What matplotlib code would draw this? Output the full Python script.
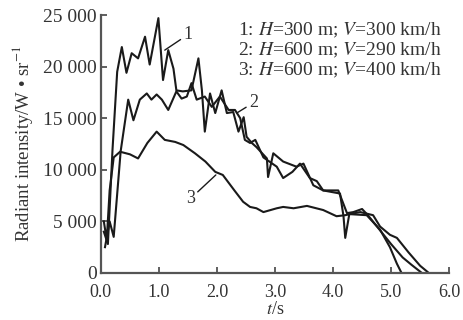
import matplotlib
matplotlib.use("Agg")
import matplotlib.pyplot as plt
from matplotlib.ticker import FuncFormatter

plt.rcParams['font.family'] = ['Liberation Serif', 'DejaVu Serif']
plt.rcParams['mathtext.fontset'] = 'stix'

# curve 1: H=300 m, V=300 km/h
t1 = [0.05, 0.12, 0.2, 0.28, 0.36, 0.44, 0.53, 0.64, 0.76, 0.84, 0.99, 1.07, 1.16, 1.25,
      1.30, 1.41, 1.56, 1.68, 1.74, 1.79, 1.88, 1.97, 2.08, 2.17, 2.28, 2.37, 2.46, 2.51,
      2.60, 2.68, 2.86, 2.88, 2.97, 3.14, 3.37, 3.49, 3.66, 3.83, 4.12, 4.18, 4.21, 4.28,
      4.47, 4.69, 4.81, 4.98, 5.10, 5.3, 5.5, 5.65]
i1 = [4000, 2800, 12000, 19500, 21900, 19400, 21300, 20800, 22900, 20200, 24700, 18700,
      21600, 19800, 17700, 17600, 17700, 20800, 17700, 13700, 17400, 15500, 17700, 15500,
      15600, 13700, 15100, 13200, 12600, 12200, 11100, 9300, 11600, 10800, 10300, 10600,
      8500, 8000, 7700, 5500, 3400, 5700, 5900, 5600, 4500, 3700, 3400, 2000, 700, 0]

# curve 2: H=600 m, V=290 km/h
t2 = [0.07, 0.15, 0.22, 0.34, 0.47, 0.56, 0.67, 0.79, 0.87, 0.96, 1.05, 1.16, 1.30, 1.39,
      1.48, 1.56, 1.65, 1.79, 1.91, 2.05, 2.2, 2.31, 2.40, 2.48, 2.57, 2.66, 2.80, 3.03,
      3.14, 3.30, 3.43, 3.6, 3.72, 3.83, 4.09, 4.24, 4.35, 4.5, 4.6, 4.8, 5.0, 5.2, 5.35, 5.53]
i2 = [2500, 5000, 3500, 11800, 16800, 14800, 16800, 17400, 16800, 17300, 16800, 15800,
      17600, 16900, 17100, 18400, 16800, 17100, 16100, 17100, 15800, 15800, 15000, 12900,
      12600, 12900, 11200, 10300, 9200, 9800, 10600, 9200, 8900, 8000, 8000, 5800, 5900,
      6200, 5600, 4200, 2800, 1500, 800, 0]

# curve 3: H=600 m, V=400 km/h
t3 = [0.05, 0.1, 0.15, 0.22, 0.33, 0.5, 0.64, 0.8, 0.96, 1.10, 1.28, 1.42, 1.62, 1.80,
      1.97, 2.10, 2.30, 2.45, 2.57, 2.68, 2.80, 3.03, 3.14, 3.32, 3.55, 3.83, 4.06, 4.21,
      4.29, 4.58, 4.81, 4.98, 5.10, 5.18]
i3 = [5000, 3200, 8000, 11200, 11750, 11500, 11100, 12600, 13700, 12900, 12700, 12400,
      11600, 10800, 9800, 9500, 8000, 6900, 6400, 6270, 5900, 6270, 6400, 6270, 6500, 6100,
      5500, 5600, 5700, 5600, 4200, 2500, 900, 0]

legend_lines = [r'1: $H$=300 m; $V$=300 km/h',
                r'2: $H$=600 m; $V$=290 km/h',
                r'3: $H$=600 m; $V$=400 km/h']

fig = plt.figure(figsize=(4.63, 3.2), dpi=100)
ax = fig.add_axes([0.218, 0.147, 0.752, 0.806])

for t, v in [(t1, i1), (t2, i2), (t3, i3)]:
    ax.plot(t, v, color='#1a1a1a', lw=1.5)

ax.set_xlim(0, 6)
ax.set_ylim(0, 25000)
ax.set_xticks([0, 1, 2, 3, 4, 5, 6])
ax.set_yticks([0, 5000, 10000, 15000, 20000, 25000])
ax.xaxis.set_major_formatter(FuncFormatter(lambda x, p: '%.1f' % x))
ax.yaxis.set_major_formatter(FuncFormatter(
    lambda y, p: '0' if y == 0 else '%d 000' % (y // 1000)))
ax.tick_params(direction='in', length=4, width=1.2, labelsize=13,
               colors='#444', labelcolor='#333')
ax.tick_params(axis='x', pad=8)
ax.tick_params(axis='y', pad=3, labelsize=14)
for s in ['top', 'right']:
    ax.spines[s].set_visible(False)
for s in ['left', 'bottom']:
    ax.spines[s].set_linewidth(1.6)
    ax.spines[s].set_color('#555')

ax.set_xlabel(r'$t$/s', fontsize=13, color='#333', labelpad=0)
ax.set_ylabel(r'Radiant intensity/W • sr$^{-1}$', fontsize=13.5, color='#333', labelpad=6)

for k, s in enumerate(legend_lines):
    fig.text(238 / 463, 1 - (30 + 20 * k) / 320, s, fontsize=14, color='#333',
             va='center', ha='left')

ann = dict(arrowstyle='-', color='#1a1a1a', lw=1.0, shrinkA=0, shrinkB=0)
ax.annotate('1', xy=(1.10, 21600), xytext=(1.42, 23100), fontsize=13, color='#333',
            va='center', ha='left', arrowprops=ann)
ax.annotate('2', xy=(2.34, 15500), xytext=(2.55, 16500), fontsize=13, color='#333',
            va='center', ha='left', arrowprops=ann)
ax.annotate('3', xy=(1.98, 9500), xytext=(1.62, 7200), fontsize=13, color='#333',
            va='center', ha='right', arrowprops=ann)

fig.savefig('out.png', dpi=100)
